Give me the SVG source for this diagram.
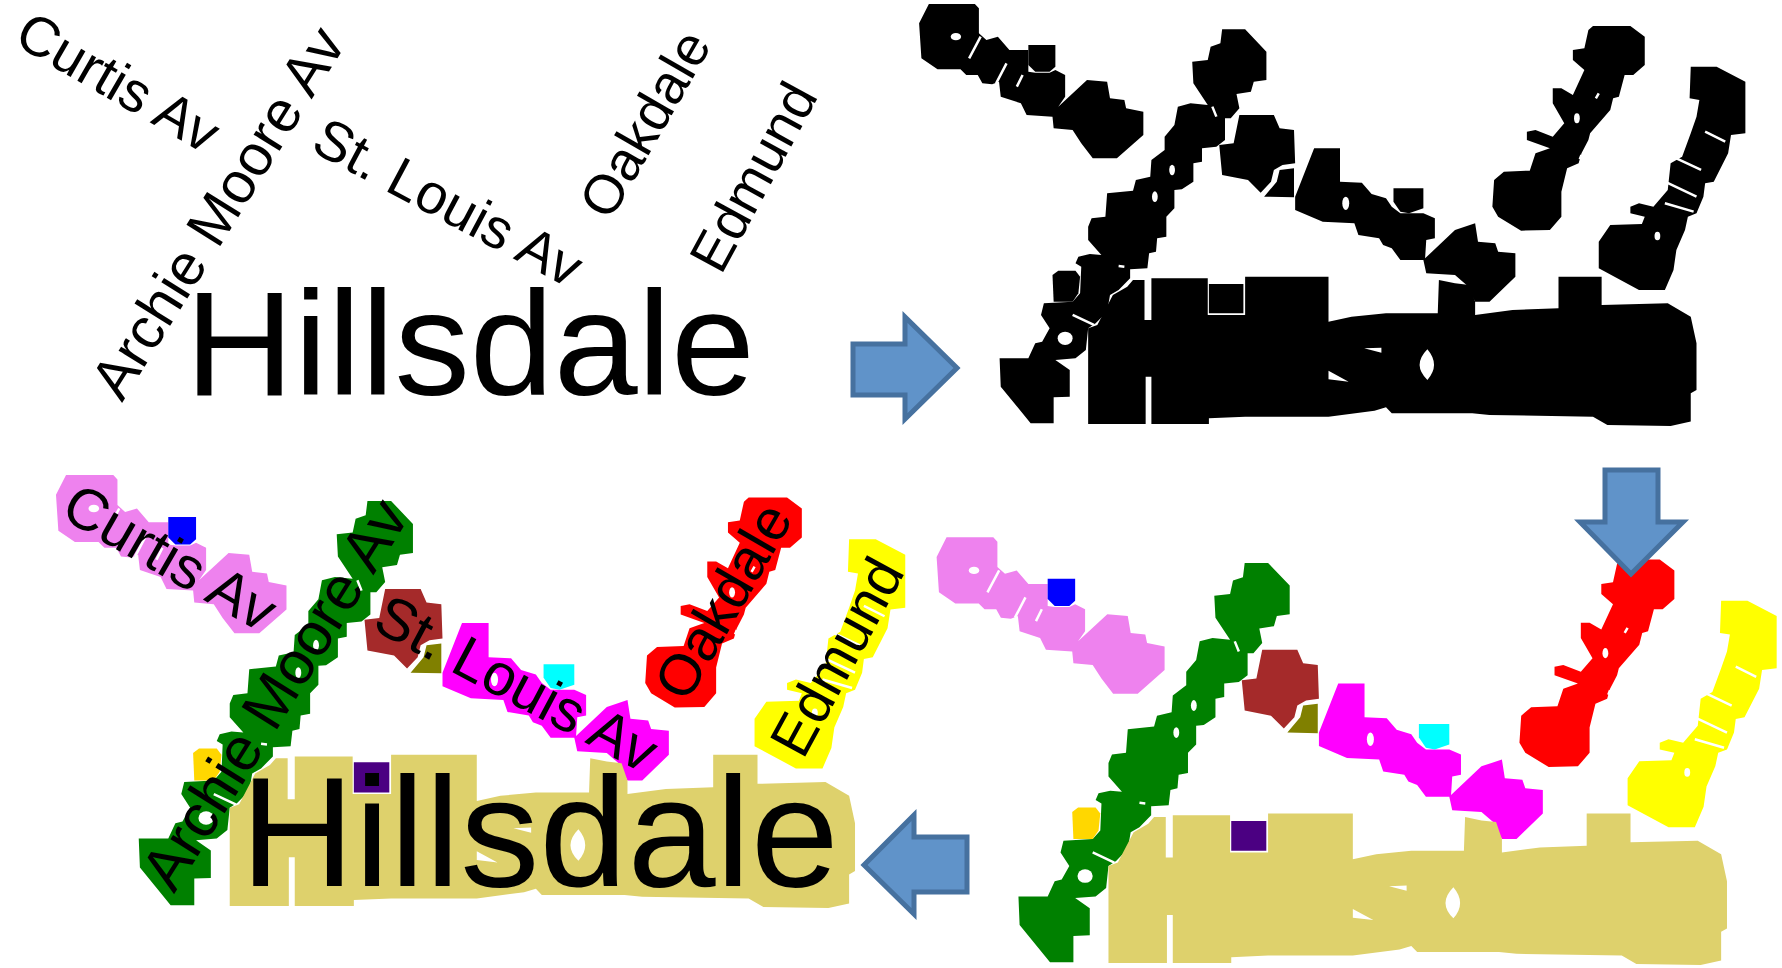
<svg xmlns="http://www.w3.org/2000/svg" xmlns:xlink="http://www.w3.org/1999/xlink" width="1782" height="968" viewBox="0 0 1782 968">
<style>
text{font-family:"Liberation Sans",Arial,sans-serif;fill:#000}
.big{font-size:148px}
.curtis{font-size:56px}
.archie{font-size:58px}
.st{font-size:56px}
.oak{font-size:55px}
.edm{font-size:55px}
.s{fill:none;stroke:#fff;stroke-width:2.5;vector-effect:non-scaling-stroke}
.h{fill:#fff}
.arrow{fill:#6093c9;stroke:#46719f;stroke-width:5}
</style>
<defs>
<g id="b-curtis"><path d="M85 12L165 12 172 25 172 100 185 120 205 110 225 150 258 150 258 215 270 218 295 218 305 210 322 225 322 290 310 320 360 240 395 245 400 295 425 300 428 325 458 335 458 405 412 475 370 475 350 430 335 390 302 385 300 350 255 345 245 310 210 290 207 245 195 253 178 250 170 225 150 225 140 208 100 208 72 175 68 70Z"/><path class="s" d="M175 110L155 175M220 190L202 250M248 225L238 260"/><ellipse class="h" cx="132" cy="110" rx="9" ry="11"/></g>
<path id="b-curtisdot" d="M258 135L305 135 305 200 295 215 270 215 258 195Z"/>
<g id="b-archie"><path d="M595 88L635 88 672 155 672 240 650 245 645 275 620 282 625 325 610 355 600 355 600 420 585 440 560 445 560 485 545 490 545 545 525 568 512 570 512 625 498 650 498 710 482 715 480 755 468 760 465 805 435 808 435 835 415 870 400 885 395 935 375 970 362 985 358 1050 340 1075 305 1080 330 1110 330 1190 302 1192 302 1270 262 1270 210 1160 208 1075 258 1075 270 1030 282 1025 295 985 280 945 285 910 335 905 348 880 350 800 340 790 345 770 365 762 385 765 362 720 362 680 368 655 392 650 395 580 440 572 445 540 470 530 472 480 495 450 495 410 512 375 518 320 540 310 570 315 545 250 543 185 570 180 575 140 592 130Z"/><path class="s" d="M578 320L585 350M335 945L372 975M415 798L425 800"/><ellipse class="h" cx="508" cy="510" rx="5" ry="16"/><ellipse class="h" cx="478" cy="590" rx="5" ry="16"/><ellipse class="h" cx="322" cy="1015" rx="13" ry="20"/></g>
<path id="b-archiedot" d="M310 812L340 812 348 830 345 880 335 905 302 905 300 825Z"/>
<path id="b-st" d="M625 345L685 345 695 385 720 390 722 490 700 495 685 510 680 545 662 578 640 540 595 525 590 435 615 430Z"/>
<path id="b-stdot" d="M695 510L720 505 720 592 668 590 690 545Z"/>
<g id="b-louis"><path d="M755 445L800 445 800 545 838 548 855 582 880 595 890 620 905 640 945 640 965 655 965 715 950 720 948 775 1000 690 1035 670 1040 725 1070 730 1075 755 1105 760 1105 830 1060 905 1035 905 1020 855 1000 825 950 820 945 780 905 780 890 745 875 735 868 715 832 705 825 670 770 665 722 630 722 590Z"/><ellipse class="h" cx="810" cy="610" rx="6" ry="20"/><path class="s" d="M890 610L905 630"/></g>
<path id="b-louisdot" d="M893 565L945 565 945 625 920 640 905 635 893 605Z"/>
<g id="b-oak"><path d="M1240 78L1305 78 1330 110 1330 195 1310 225 1295 225 1285 290 1275 295 1270 330 1235 400 1232 420 1220 460 1215 490 1195 505 1185 575 1185 650 1165 690 1115 692 1075 650 1065 620 1068 540 1085 515 1130 512 1140 460 1165 445 1125 420 1125 395 1140 390 1170 410 1190 370 1170 310 1170 265 1185 265 1205 285 1225 210 1205 180 1205 150 1225 145 1232 90Z"/><ellipse class="h" cx="1212" cy="355" rx="5" ry="15"/><path class="s" d="M1250 280L1245 295M1220 465L1217 478"/></g>
<g id="b-edm"><path d="M1410 200L1455 200 1505 245 1505 400 1480 405 1475 460 1450 545 1435 550 1432 590 1420 640 1405 650 1400 690 1385 750 1380 810 1365 870 1320 870 1250 805 1250 725 1270 675 1325 672 1330 650 1305 640 1305 620 1320 610 1345 620 1370 570 1375 490 1395 470 1410 400 1420 350 1425 300 1408 295Z"/><ellipse class="h" cx="1352" cy="708" rx="5" ry="13"/><path class="s" d="M1435 395L1470 425M1385 475L1428 510M1365 545L1420 590M1365 610L1415 635"/></g>
<g id="b-hills"><path d="M362 985L378 975 405 885 430 860 440 840 460 840 460 960 472 960 472 835 570 835 570 945 635 945 635 830 780 830 780 965 820 950 880 940 970 940 972 840 1000 850 1025 855 1035 905 1035 945 1100 930 1180 925 1180 830 1255 830 1255 915 1370 910 1410 950 1420 1030 1420 1170 1410 1180 1410 1265 1375 1278 1265 1275 1240 1250 1060 1245 1030 1240 890 1240 880 1222 860 1232 780 1250 635 1250 572 1255 572 1272 472 1272 472 1130 462 1130 462 1272 362 1272Z"/><path class="h" d="M952 1048Q975 1095 952 1140 925 1095 952 1048ZM780 1112L815 1145 780 1138ZM842 1045L872 1043 872 1058Z"/></g>
<path id="b-hillsdot" d="M572 852L632 852 632 940 572 940Z"/>
</defs>

<g id="panel-text">
<g id="t1-curtis"><text class="curtis" transform="translate(12 43) rotate(30)">Curtis Av</text></g>
<g id="t1-archie"><text class="archie" transform="translate(122 403) rotate(-58)">Archie Moore Av</text></g>
<g id="t1-st"><text class="st" transform="translate(309 150) rotate(28)">St. Louis Av</text></g>
<g id="t1-oak"><text class="oak" transform="translate(610 222) rotate(-60)">Oakdale</text></g>
<g id="t1-edm"><text class="edm" transform="translate(721 276) rotate(-61.5)">Edmund</text></g>
<g id="t1-hills"><text class="big" x="185" y="395" textLength="570" lengthAdjust="spacingAndGlyphs">Hillsdale</text></g>
</g>

<g id="panel-black" fill="#000" transform="matrix(.575 0 0 .3333 880 0)">
<use id="p2-curtis" xlink:href="#b-curtis"/><use id="p2-curtisdot" xlink:href="#b-curtisdot"/>
<use id="p2-archie" xlink:href="#b-archie"/><use id="p2-archiedot" xlink:href="#b-archiedot"/>
<use id="p2-st" xlink:href="#b-st"/><use id="p2-stdot" xlink:href="#b-stdot"/>
<use id="p2-louis" xlink:href="#b-louis"/><use id="p2-louisdot" xlink:href="#b-louisdot"/>
<use id="p2-oak" xlink:href="#b-oak"/><use id="p2-edm" xlink:href="#b-edm"/>
<use id="p2-hills" xlink:href="#b-hills"/><use id="p2-hillsdot" xlink:href="#b-hillsdot"/>
</g>

<g id="panel-colour" transform="matrix(.5846 0 0 .3378 896.85 533.25)">
<use id="p4-curtis" xlink:href="#b-curtis" fill="#ee82ee"/><use id="p4-curtisdot" xlink:href="#b-curtisdot" fill="#0000ff"/>
<use id="p4-archie" xlink:href="#b-archie" fill="#008000"/><use id="p4-archiedot" xlink:href="#b-archiedot" fill="#ffd700"/>
<use id="p4-st" xlink:href="#b-st" fill="#a52a2a"/><use id="p4-stdot" xlink:href="#b-stdot" fill="#808000"/>
<use id="p4-louis" xlink:href="#b-louis" fill="#ff00ff"/><use id="p4-louisdot" xlink:href="#b-louisdot" fill="#00ffff"/>
<use id="p4-oak" xlink:href="#b-oak" fill="#ff0000"/><use id="p4-edm" xlink:href="#b-edm" fill="#ffff00"/>
<use id="p4-hills" xlink:href="#b-hills" fill="#ded16c"/><use id="p4-hillsdot" xlink:href="#b-hillsdot" fill="#4b0082"/>
</g>

<g id="panel-overlay-blobs" transform="matrix(.591 0 0 .342 15.8 470.9)">
<use id="p3-curtis" xlink:href="#b-curtis" fill="#ee82ee"/><use id="p3-curtisdot" xlink:href="#b-curtisdot" fill="#0000ff"/>
<use id="p3-archie" xlink:href="#b-archie" fill="#008000"/><use id="p3-archiedot" xlink:href="#b-archiedot" fill="#ffd700"/>
<use id="p3-st" xlink:href="#b-st" fill="#a52a2a"/><use id="p3-stdot" xlink:href="#b-stdot" fill="#808000"/>
<use id="p3-louis" xlink:href="#b-louis" fill="#ff00ff"/><use id="p3-louisdot" xlink:href="#b-louisdot" fill="#00ffff"/>
<use id="p3-oak" xlink:href="#b-oak" fill="#ff0000"/><use id="p3-edm" xlink:href="#b-edm" fill="#ffff00"/>
<use id="p3-hills" xlink:href="#b-hills" fill="#ded16c"/><use id="p3-hillsdot" xlink:href="#b-hillsdot" fill="#4b0082"/>
</g>
<g id="panel-overlay-text" transform="matrix(1.05 0 0 1.05 46 471)">
<text class="curtis" transform="translate(12 43) rotate(30)">Curtis Av</text>
<text class="archie" transform="translate(122 403) rotate(-58)">Archie Moore Av</text>
<text class="st" transform="translate(309 150) rotate(28)">St. Louis Av</text>
<text class="oak" transform="translate(610 222) rotate(-60)">Oakdale</text>
<text class="edm" transform="translate(721 276) rotate(-61.5)">Edmund</text>
<text class="big" x="185" y="395" textLength="570" lengthAdjust="spacingAndGlyphs">Hillsdale</text>
</g>

<g id="connectors">
<path class="arrow" d="M853 344H905V317L957 368 905 419V395H853Z"/>
<path class="arrow" d="M1605 470H1658V522H1683L1631 574 1580 522H1605Z"/>
<path class="arrow" d="M967 837V892H914V914L864 865 914 815V837Z"/>
</g>
</svg>
